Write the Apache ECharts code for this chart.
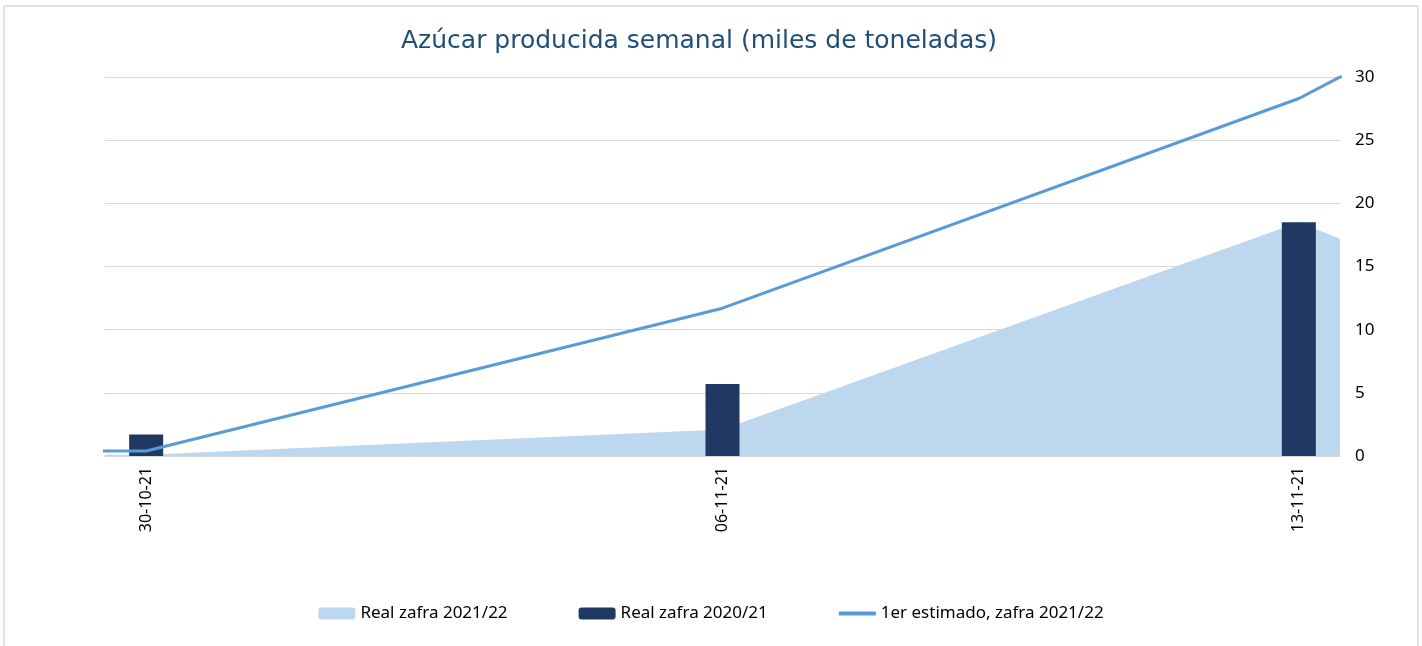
<!DOCTYPE html>
<html>
<head>
<meta charset="utf-8">
<title>Azúcar producida semanal</title>
<script src="https://cdn.jsdelivr.net/npm/echarts@6/dist/echarts.min.js"></script>
<style>
  html, body { margin: 0; padding: 0; background: #fff; }
  .h-chart-box { position: relative; width: 1422px; height: 646px; overflow: hidden; }
  .h-chart { width: 1422px; height: 646px; }
  .h-chart-frame {
    position: absolute; left: 3px; top: 5px; width: 1412px; height: 700px;
    border: 2px solid #e3e3e3; pointer-events: none;
  }
</style>
</head>
<body>
<div class="h-chart-box">
  <div class="h-chart" id="mychart"></div>
  <div class="h-chart-frame"></div>
</div>
<script>
  // categorias diarias del eje x (se muestra una de cada 7)
  var dias = ['30-10-21', '31-10-21', '01-11-21', '02-11-21', '03-11-21', '04-11-21', '05-11-21',
    '06-11-21', '07-11-21', '08-11-21', '09-11-21', '10-11-21', '11-11-21', '12-11-21', '13-11-21']

  // barras: real zafra 2020/21 por semana
  var semanas = ['30-10-21', '06-11-21', '13-11-21']
  var real2020 = [1.7, 5.7, 18.5]

  // area y linea: dias desde 30-10-21 (los extremos quedan recortados por el eje)
  var estDias = [-1, 0, 7, 14, 15]
  var real2021 = [0.1, 0.1, 2.1, 18.5, 15.9]
  var estimado = [0.4, 0.4, 11.7, 28.3, 31.7]

  var yTicks = { min: 0, max: 30, interval: 5 }

  var fontFamily = '"Noto Sans", "Open Sans", sans-serif'
  var colorData = {
    'Real zafra 2021/22': '#bdd7ee',
    'Real zafra 2020/21': '#203864',
    '1er estimado, zafra 2021/22': '#5b9bd5'
  }

  function pares (xs, ys) {
    return xs.map(function (x, i) { return [x, ys[i]] })
  }

  var chart = echarts.init(document.getElementById('mychart'))

  var option = {
    animation: false,
    textStyle: { fontFamily: fontFamily },
    title: {
      text: 'Azúcar producida semanal (miles de toneladas)',
      left: 396,
      top: 24,
      textStyle: { fontSize: 25, fontWeight: 'normal', color: '#1f4e79', fontFamily: '"DejaVu Sans", sans-serif' }
    },
    legend: {
      left: 'center',
      top: 600,
      itemWidth: 37,
      itemHeight: 12,
      itemGap: 71,
      textStyle: { fontSize: 17, color: '#000' },
      data: [
        { name: 'Real zafra 2021/22', icon: 'roundRect' },
        { name: 'Real zafra 2020/21', icon: 'roundRect' },
        { name: '1er estimado, zafra 2021/22', icon: 'path://M0,0h37v4h-37z' }
      ]
    },
    grid: { left: 105, right: 82, top: 77, bottom: 190 },
    xAxis: [
      {
        type: 'category',
        data: dias,
        boundaryGap: true,
        axisLine: { lineStyle: { color: '#d9d9d9', width: 1.5 } },
        axisTick: { interval: 6, length: 6, lineStyle: { color: '#d9d9d9' } },
        axisLabel: { interval: 6, rotate: 90, margin: 11, fontSize: 16, color: '#000' },
        splitLine: { show: false }
      },
      {
        type: 'value',
        min: -0.5,
        max: 14.5,
        show: false
      }
    ],
    yAxis: {
      type: 'value',
      position: 'right',
      min: yTicks.min,
      max: yTicks.max,
      interval: yTicks.interval,
      axisLine: { show: false },
      axisTick: { show: false },
      axisLabel: { margin: 15, fontSize: 17, color: '#000' },
      splitLine: { lineStyle: { color: '#d9d9d9', width: 1 } }
    },
    series: [
      {
        name: 'Real zafra 2021/22',
        type: 'line',
        xAxisIndex: 1,
        z: 1,
        symbol: 'none',
        lineStyle: { width: 0 },
        itemStyle: { color: colorData['Real zafra 2021/22'] },
        areaStyle: { color: colorData['Real zafra 2021/22'], opacity: 1 },
        data: pares(estDias, real2021)
      },
      {
        name: 'Real zafra 2020/21',
        type: 'bar',
        xAxisIndex: 0,
        z: 2,
        barWidth: 34,
        itemStyle: { color: colorData['Real zafra 2020/21'] },
        data: pares(semanas, real2020)
      },
      {
        name: '1er estimado, zafra 2021/22',
        type: 'line',
        xAxisIndex: 1,
        z: 3,
        symbol: 'none',
        lineStyle: { width: 3, color: colorData['1er estimado, zafra 2021/22'] },
        itemStyle: { color: colorData['1er estimado, zafra 2021/22'] },
        data: pares(estDias, estimado)
      }
    ]
  }

  chart.setOption(option)
</script>
</body>
</html>
